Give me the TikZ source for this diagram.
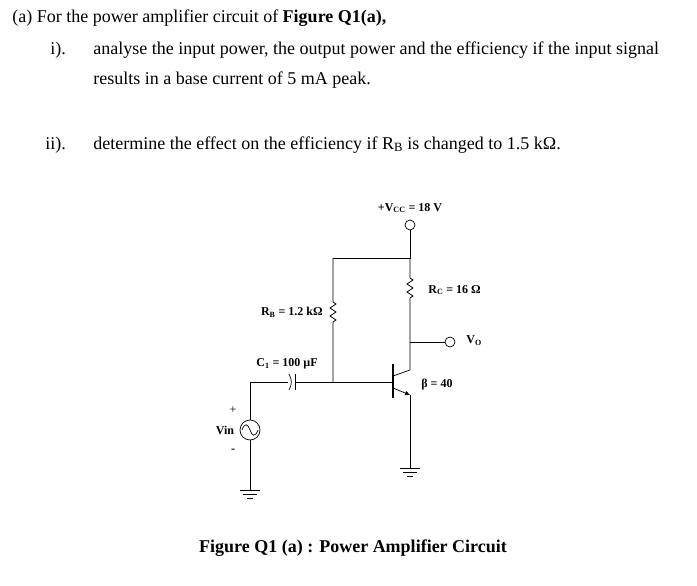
\documentclass[tikz,border=0pt]{standalone}
\usepackage{fontspec}
\setmainfont{Liberation Serif}
\usetikzlibrary{arrows.meta}
\begin{document}
\begin{tikzpicture}[x=1pt,y=-1pt,line width=0.7pt,
  txt/.style={anchor=west,inner sep=0,font=\fontsize{18}{20}\selectfont},
  lbl/.style={inner sep=0,font=\fontsize{12}{13}\selectfont\bfseries},
  term/.style={circle,draw,fill=white,minimum size=10pt,inner sep=0}]
\useasboundingbox (0,0) rectangle (697,586);
\node[txt] (t1) at (12,18) {(a) For the power amplifier circuit of \textbf{Figure Q1(a),}};
\node[txt] (n1) at (50,50) {i).};
\node[txt] (t2) at (93,50) {analyse the input power, the output power and the efficiency if the input signal};
\node[txt] (t3) at (93,80) {results in a base current of 5 mA peak.};
\node[txt] (n2) at (45,145) {ii).};
\node[txt] (t4) at (93,145) {determine the effect on the efficiency if R\textsubscript{B} is changed to 1.5 kΩ.};
% circuit
\node[term] (vcc) at (410,225) {};
\node[lbl] (vccl) at (410,208) {+V\textsubscript{CC} = 18 V};
\coordinate (top) at (410,258);
\coordinate (topl) at (333,258);
\coordinate (vo) at (410,342);
\node[term] (vot) at (450,342) {};
\node[lbl,anchor=west] (vol) at (466,341) {V\textsubscript{O}};
\coordinate (c) at (410,370);
\coordinate (e) at (410,395);
\coordinate (b) at (393,382);
\coordinate (bj) at (333,382);
\draw (vcc) -- (top) -- (topl);
\draw (top) -- (410,278) -- (413,280) -- (407,284) -- (413,288) -- (407,292) -- (413,296) -- (410,298) -- (vo) -- (c) -- (393,376);
\draw (vo) -- (vot);
\node[lbl,anchor=west] (rcl) at (428,290) {R\textsubscript{C} = 16 Ω};
\draw (topl) -- (333,302) -- (336,304) -- (330,308) -- (336,312) -- (330,316) -- (336,320) -- (333,322) -- (bj);
\node[lbl,anchor=east] (rbl) at (323,312) {R\textsubscript{B} = 1.2 kΩ};
\draw[line width=1.2pt] (393,364) -- (393,398);
\draw (bj) -- (b);
\draw[-{Triangle[length=5pt,width=4pt]}] (393,388) -- (e);
\draw (e) -- (410,468);
\node[lbl] (bl) at (437,385) {β = 40};
% ground emitter
\draw (400,468) -- (420,468) (403,472) -- (417,472) (407,476) -- (413,476);
% capacitor
\draw (bj) -- (295,382);
\draw (295,374) -- (295,390);
\draw (289,374) to[bend left=30] (289,390);
\draw (288,382) -- (250,382) -- (250,420);
\node[lbl] (cl) at (287,364) {C\textsubscript{1} = 100 µF};
\node[circle,draw,minimum size=20pt,inner sep=0] (src) at (250,430) {};
\draw (242,430) .. controls (245,422) and (248,424) .. (250,430) .. controls (252,436) and (255,438) .. (258,430);
\draw (src) -- (250,490);
\draw (240,490) -- (260,490) (243,494) -- (257,494) (247,498) -- (253,498);
\node[inner sep=0,font=\fontsize{12}{13}\selectfont] (pl) at (233,410) {+};
\node[lbl] (vinl) at (225,430) {Vin};
\node[lbl] (ml) at (233,451) {-};
\node[inner sep=0,font=\fontsize{18}{20}\selectfont\bfseries] (cap) at (353,548) {Figure Q1 (a) : Power Amplifier Circuit};
\end{tikzpicture}
\end{document}
